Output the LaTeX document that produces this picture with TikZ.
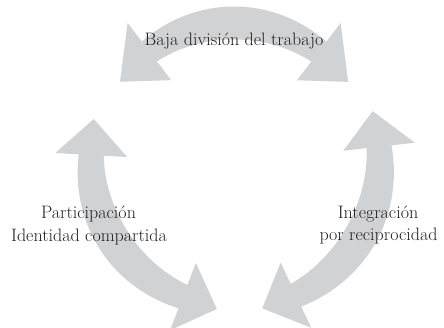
\documentclass[tikz,border=0pt]{standalone}
\definecolor{arrowgray}{RGB}{209,210,212}
\definecolor{textdark}{RGB}{35,31,32}
\tikzset{
  arrowfill/.style={fill=arrowgray, draw=none},
  lbl/.style={font=\fontsize{18}{22}\selectfont, text=textdark, inner sep=0pt, anchor=base},
}
% curved double arrow: #1 start angle, #2 end angle, #3 radius, #4 head angle, #5 tip radius offset
\newcommand{\cdarrow}[5]{%
  \fill[arrowfill] (#1:{#3+12.5}) -- (#1:{#3+36}) -- ({#1-#4}:{#3+#5}) -- (#1:{#3-36}) -- (#1:{#3-12.5})
   -- plot[domain=#1:#2, samples=60, variable=\t] (\t:{#3-12.5-4*sin(180*(\t-(#1))/((#2)-(#1)))})
   -- (#2:{#3-36}) -- ({#2+#4}:{#3+#5}) -- (#2:{#3+36}) -- (#2:{#3+12.5})
   -- plot[domain=#2:#1, samples=60, variable=\t] (\t:{#3+12.5+4*sin(180*(\t-(#1))/((#2)-(#1)))})
   -- cycle;}
\begin{document}
\begin{tikzpicture}[x=1pt,y=1pt]
\clip (0,0) rectangle (444,328);
\begin{scope}[shift={(234,165)}]
  \cdarrow{52.7}{127.2}{140}{17.3}{0}
  \cdarrow{176.8}{249.1}{143}{14.2}{4}
  \cdarrow{-64.9}{6.4}{146}{14.1}{2}
\end{scope}
\node[lbl] (division) at (234,282) {Baja división del trabajo};
\node[lbl] (particip) at (88.5,109) {Participación};
\node[lbl] (identidad) at (89,86.3) {Identidad compartida};
\node[lbl] (integr) at (378,109) {Integración};
\node[lbl] (recipro) at (378.5,87) {por reciprocidad};
\end{tikzpicture}
\end{document}
